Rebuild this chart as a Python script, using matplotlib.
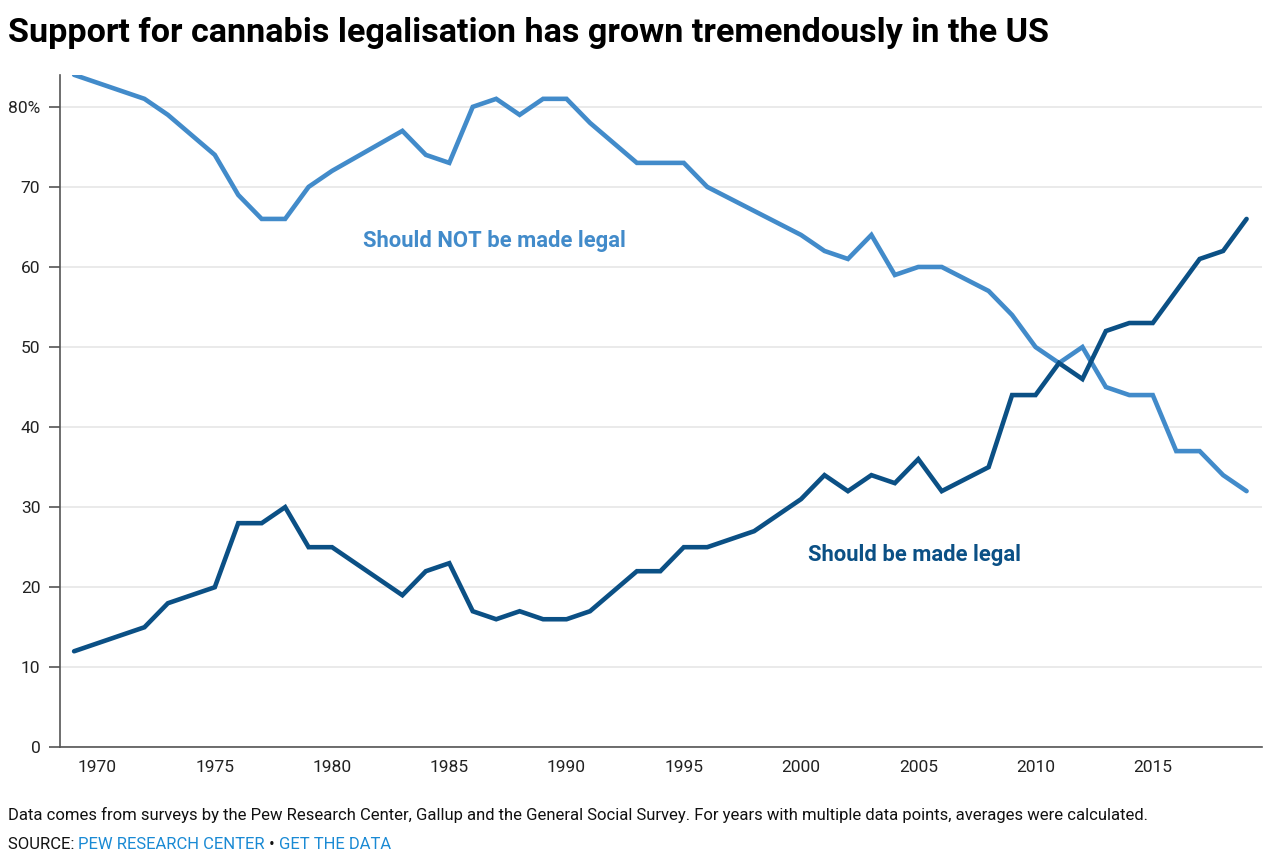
import matplotlib
matplotlib.use("Agg")
import matplotlib.pyplot as plt

# survey results (% of respondents)
years_not_legal = [1969, 1972, 1973, 1975, 1976, 1977, 1978, 1979, 1980, 1983,
                   1984, 1985, 1986, 1987, 1988, 1989, 1990, 1991, 1993, 1995,
                   1996, 2000, 2001, 2002, 2003, 2004, 2005, 2006, 2008, 2009,
                   2010, 2011, 2012, 2013, 2014, 2015, 2016, 2017, 2018, 2019]
not_legal = [84, 81, 79, 74, 69, 66, 66, 70, 72, 77,
             74, 73, 80, 81, 79, 81, 81, 78, 73, 73,
             70, 64, 62, 61, 64, 59, 60, 60, 57, 54,
             50, 48, 50, 45, 44, 44, 37, 37, 34, 32]

years_legal = [1969, 1972, 1973, 1975, 1976, 1977, 1978, 1979, 1980, 1983,
               1984, 1985, 1986, 1987, 1988, 1989, 1990, 1991, 1993, 1994,
               1995, 1996, 1998, 2000, 2001, 2002, 2003, 2004, 2005, 2006,
               2008, 2009, 2010, 2011, 2012, 2013, 2014, 2015, 2017, 2018, 2019]
legal = [12, 15, 18, 20, 28, 28, 30, 25, 25, 19,
         22, 23, 17, 16, 17, 16, 16, 17, 22, 22,
         25, 25, 27, 31, 34, 32, 34, 33, 36, 32,
         35, 44, 44, 48, 46, 52, 53, 53, 61, 62, 66]

x_ticks = [1970, 1975, 1980, 1985, 1990, 1995, 2000, 2005, 2010, 2015]
y_ticks = [0, 10, 20, 30, 40, 50, 60, 70, 80]
y_labels = ["0", "10", "20", "30", "40", "50", "60", "70", "80%"]

light = "#428bca"
dark = "#0b5085"
link = "#1a8ad4"

plt.rcParams['font.family'] = ['Roboto', 'DejaVu Sans']

fig = plt.figure(figsize=(12.72, 8.6), dpi=100)
ax = fig.add_axes([0.047, 0.131, 0.945, 0.782])

ax.plot(years_not_legal, not_legal, color=light, lw=3.3, solid_capstyle='round', solid_joinstyle='miter', zorder=3)
ax.plot(years_legal, legal, color=dark, lw=3.3, solid_capstyle='round', solid_joinstyle='miter', zorder=3)

ax.set_xlim(1968.39, 2019.65)
ax.set_ylim(0, 84)
ax.set_xticks(x_ticks)
ax.set_xticklabels([str(y) for y in x_ticks], fontsize=12.5, color="#222222")
ax.set_yticks(y_ticks)
ax.set_yticklabels(y_labels, fontsize=12.5, color="#222222")
ax.tick_params(axis='x', length=0, pad=9)
ax.tick_params(axis='y', length=8, width=1.2, color="#555555", pad=6)
ax.grid(axis='y', color="#e6e6e6", lw=1.2, zorder=0)
for s in ['top', 'right']:
    ax.spines[s].set_visible(False)
ax.spines['left'].set_color("#555555")
ax.spines['left'].set_linewidth(1.2)
ax.spines['bottom'].set_color("#555555")
ax.spines['bottom'].set_linewidth(1.2)

ax.text(1981.3, 63.3, "Should NOT be made legal", color=light, fontsize=15.8,
        fontweight='bold', va='center', ha='left')
ax.text(2000.3, 24.0, "Should be made legal", color=dark, fontsize=15.8,
        fontweight='bold', va='center', ha='left')

fig.text(0.006, 0.962, "Support for cannabis legalisation has grown tremendously in the US",
         fontsize=24.6, fontweight='bold', color="black", va='center', ha='left')

fig.text(0.006, 0.052, "Data comes from surveys by the Pew Research Center, Gallup and the General Social Survey. "
         "For years with multiple data points, averages were calculated.",
         fontsize=12, color="#111111", va='center', ha='left')
t1 = fig.text(0.006, 0.018, "SOURCE: ", fontsize=12, color="#111111", va='center', ha='left')
t2 = ax.annotate("PEW RESEARCH CENTER", xy=(1, 0), xycoords=t1, va='bottom', ha='left',
                 fontsize=12, color=link, annotation_clip=False)
t3 = ax.annotate(" \u2022 ", xy=(1, 0), xycoords=t2, va='bottom', ha='left',
                 fontsize=12, color="#111111", annotation_clip=False)
ax.annotate("GET THE DATA", xy=(1, 0), xycoords=t3, va='bottom', ha='left',
            fontsize=12, color=link, annotation_clip=False)

fig.savefig("out.png", dpi=100)
